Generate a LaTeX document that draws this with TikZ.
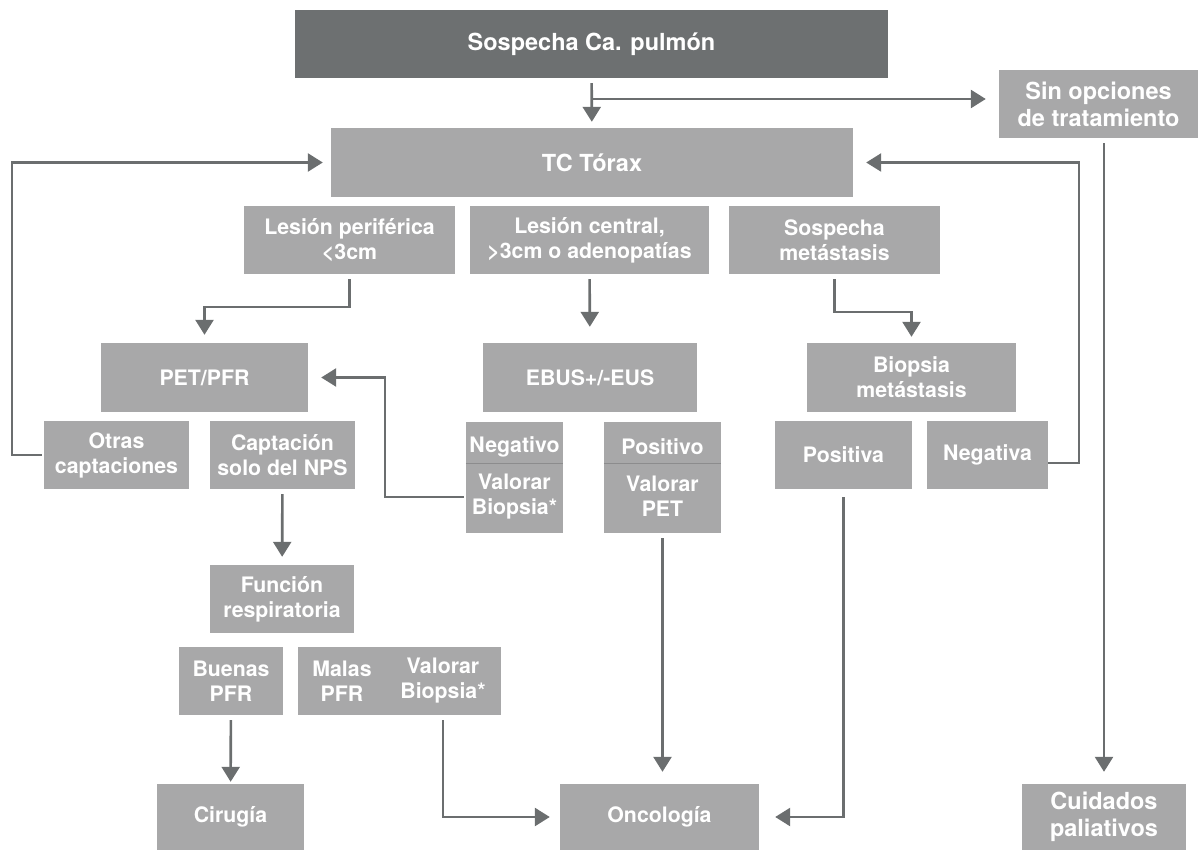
\documentclass[tikz,border=0pt]{standalone}
\usepackage{fontspec}
\setmainfont{TeX Gyre Heros}
\usetikzlibrary{arrows.meta}

\definecolor{boxlight}{HTML}{A8A8A9}
\definecolor{boxdark}{HTML}{6D7071}
\definecolor{linegray}{HTML}{6B6E6F}
\definecolor{splitgray}{HTML}{8C8C8D}

\begin{document}
\begin{tikzpicture}[x=1pt,y=-1pt]

	\tikzstyle box=[fill=boxlight, text=white, align=center, inner sep=0pt, font=\bfseries\fontsize{21.3pt}{25pt}\selectfont];
	\tikzstyle big box=[box, font=\bfseries\fontsize{23.5pt}{27pt}\selectfont];
	\tikzstyle label text=[text=white, align=center, inner sep=0pt, font=\bfseries\fontsize{21.3pt}{25pt}\selectfont];
	\tikzstyle flow lines=[draw=linegray, line width=2.6pt, -{Triangle[width=18pt,length=15pt]}, shorten <=5pt, shorten >=8pt];

	\useasboundingbox (0,0) rectangle (1203,850);

		% header and side boxes
		\node[big box, fill=boxdark, minimum width=593pt, minimum height=68pt] (sospecha) at (591.5,44) {Sospecha Ca. pulmón};
		\node[big box, minimum width=522pt, minimum height=69pt] (tc) at (592,162.5) {TC Tórax};
		\node[big box, minimum width=199pt, minimum height=68pt] (sinop) at (1098.5,104) {Sin opciones\\de tratamiento};
		\node[big box, minimum width=164pt, minimum height=66pt] (cuidados) at (1104,817) {Cuidados\\paliativos};

		\foreach \name/\x/\y/\w/\h/\txt in {
				lesper/349.5/240/211/68/{Lesión periférica\\<3cm},
				lescen/589.5/240/239/68/{Lesión central,\\>3cm o adenopatías},
				sosmet/834.5/240/211/68/{Sospecha\\metástasis},
				pet/204.5/377.5/207/69/{PET/PFR},
				ebus/590/377.5/214/69/{EBUS+/-EUS},
				biomet/911.5/377.5/209/69/{Biopsia\\metástasis},
				otras/116.5/455/145/68/{Otras\\captaciones},
				capt/282.5/455/145/68/{Captación\\solo del NPS},
				negbox/514.5/477.5/97/111/{Negativo\\[12pt]Valorar\\Biopsia*},
				posbox/662.5/477.5/117/111/{Positivo\\[12pt]Valorar\\PET},
				positiva/843.5/455/137/68/{Positiva},
				negativa/987.5/455/121/68/{Negativa},
				funcion/282/599/144/68/{Función\\respiratoria},
				buenas/231/681/104/68/{Buenas\\PFR},
				malas/399.5/681/203/68/{},
				cirugia/230.5/817/147/66/{Cirugía},
				onco/659.5/817/199/66/{Oncología}}
			\node[box, minimum width=\w pt, minimum height=\h pt] (\name) at (\x,\y) {\txt};

		% two texts in one box
		\node[label text] (malaspfr) at (342,681) {Malas\\PFR};
		\node[label text] (malasbio) at (443,681) {Valorar\\Biopsia*};

		% dividers in the EBUS result boxes
		\foreach \b in {negbox,posbox}
			\draw[splitgray, line width=1pt] (\b.west |- 0,463) -- (\b.east |- 0,463);

		% straight arrows
		\draw[flow lines, shorten >=6pt] (sospecha) -- (tc);
		\draw[flow lines, shorten >=16pt] (lescen) -- (ebus);
		\draw[flow lines] (capt) -- (funcion);
		\draw[flow lines, shorten >=2pt] (buenas) -- (cirugia);
		\draw[flow lines, shorten >=12pt] (posbox.south) -- (posbox.south |- onco.north);
		\draw[flow lines, shorten >=12pt] (sinop.south -| cuidados) -- (cuidados.north);

		% branch to no treatment
		\coordinate (split) at (592,99);
		\draw[flow lines, shorten <=0pt, shorten >=13pt] (split) -- (split -| sinop.west);

		% elbow arrows
		\draw[flow lines] (lesper.south) -- ++(0,33) -| (pet.north);
		\draw[flow lines, shorten >=6pt] (sosmet.south) -- ++(0,38) -| (biomet.north);
		\draw[flow lines, shorten <=2pt, shorten >=13pt] (negbox.west |- 0,497) -- (385,497) |- (pet.east);
		\draw[flow lines, shorten >=10pt] (malasbio |- malas.south) |- (onco.west);
		\draw[flow lines, shorten <=8pt, shorten >=16pt] (positiva.south) |- (onco.east);

		% loops back to TC
		\draw[flow lines, shorten <=2pt] (otras.west) -- ++(-32,0) |- (tc.west);
		\draw[flow lines, shorten <=0pt, shorten >=13pt] (negativa.east |- 0,463) -- (1079,463) |- (tc.east);

\end{tikzpicture}
\end{document}
